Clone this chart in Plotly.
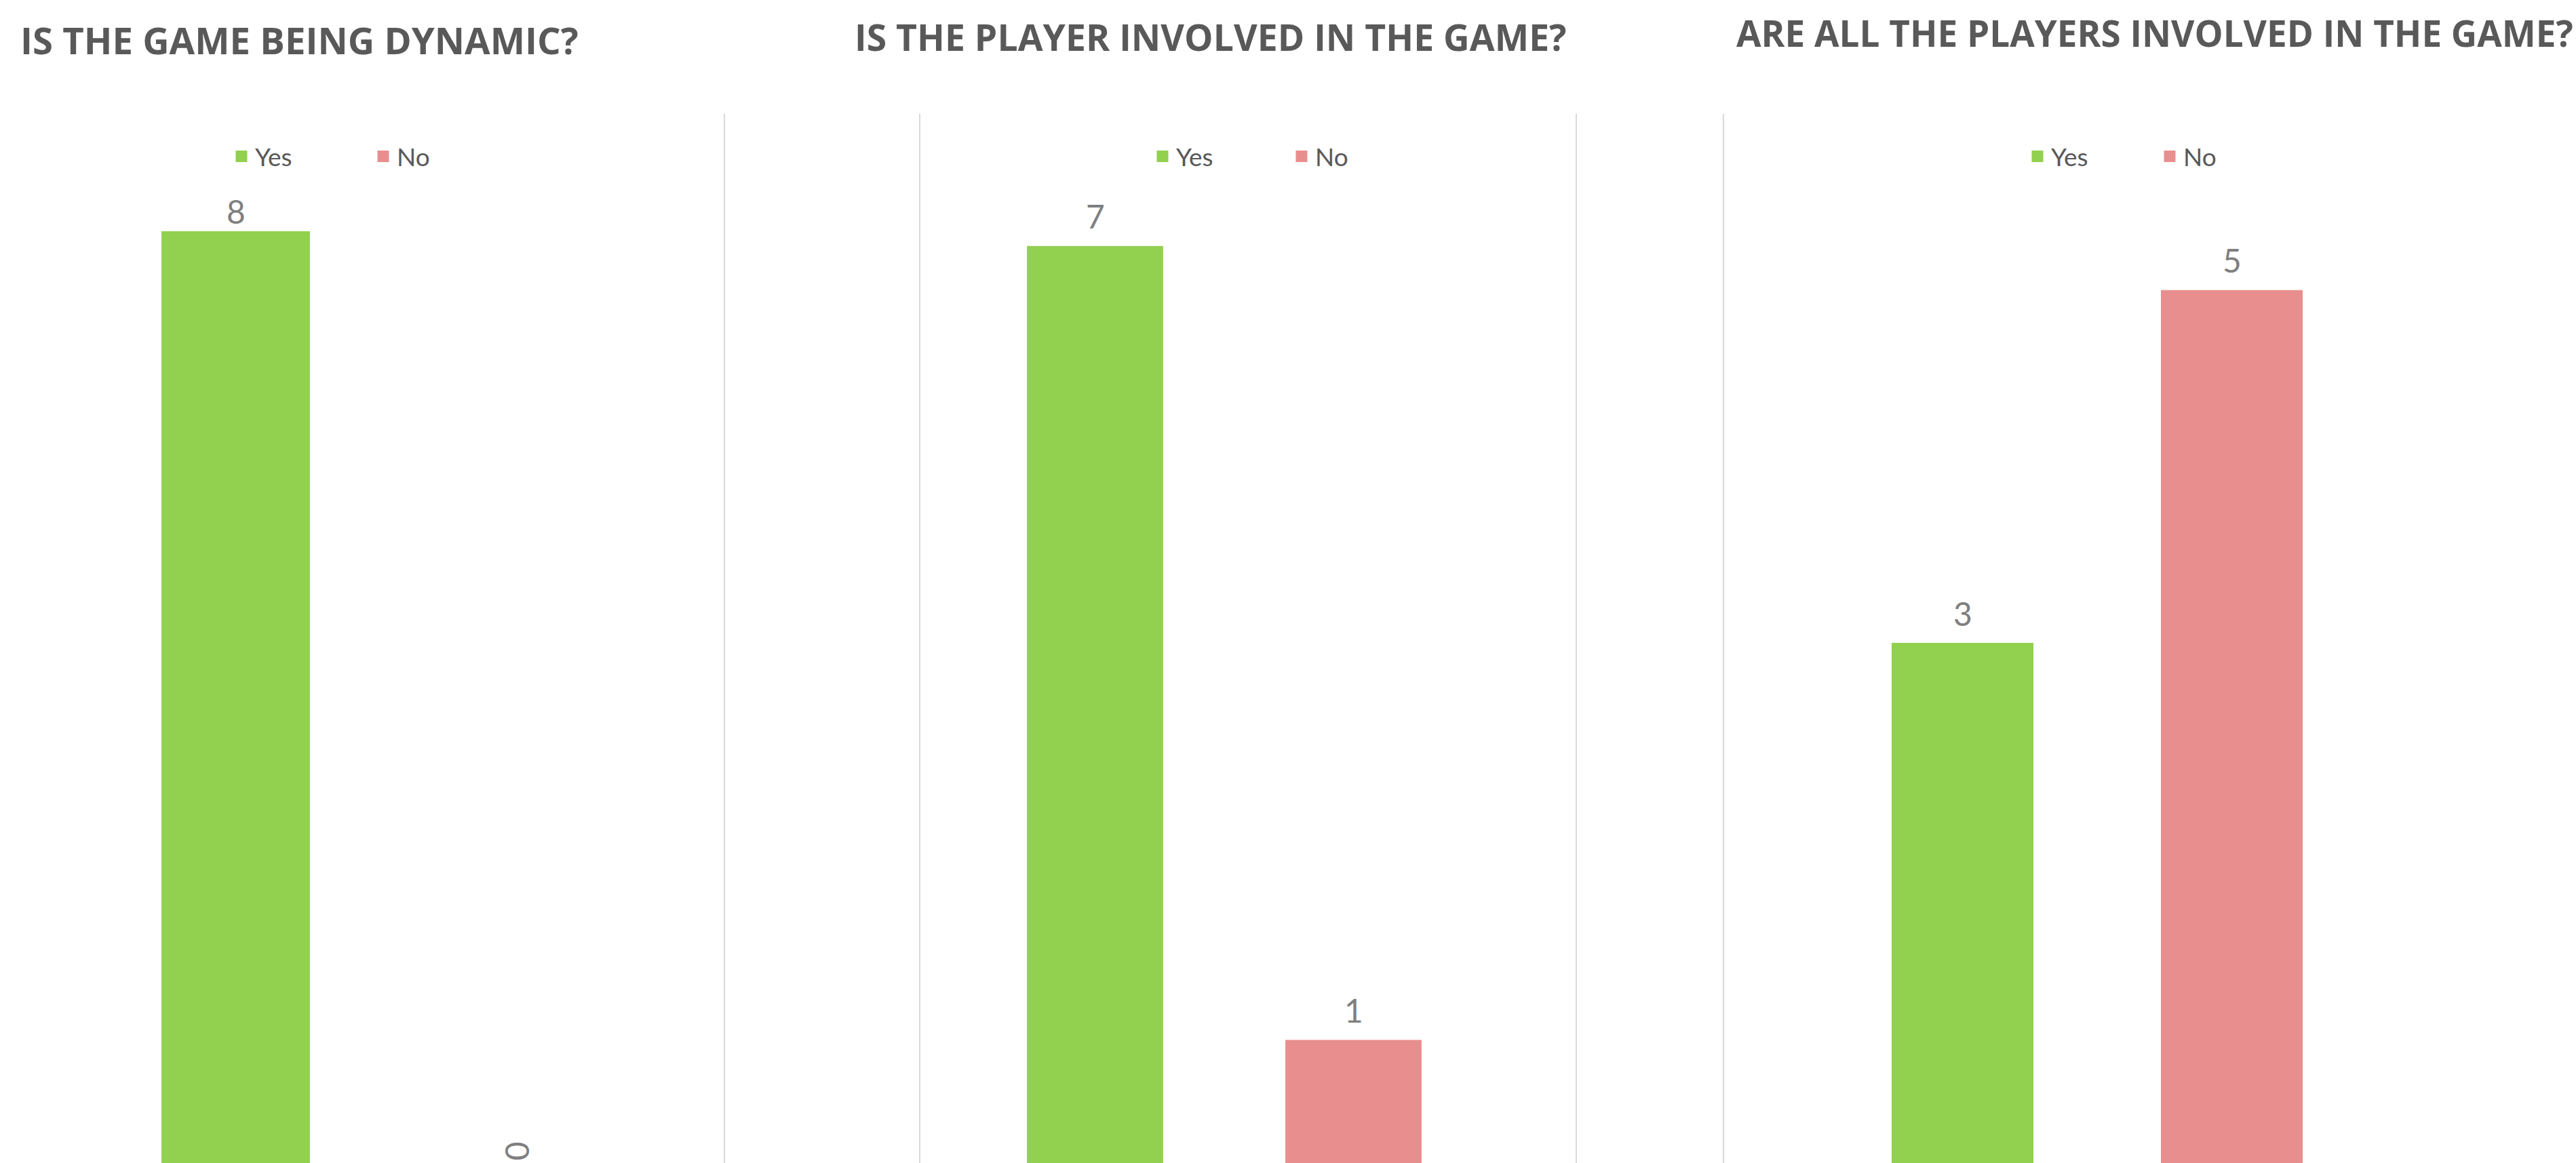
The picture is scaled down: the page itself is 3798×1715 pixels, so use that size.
import plotly.graph_objects as go

# ---------------- data ----------------
categories = ["Yes", "No"]
titles = [
    "IS THE GAME BEING DYNAMIC?",
    "IS THE PLAYER INVOLVED IN THE GAME?",
    "ARE ALL THE PLAYERS INVOLVED IN THE GAME?",
]
game_dynamic = [8, 0]
player_involved = [7, 1]
all_players_involved = [3, 5]
axis_max = [9, 8, 6]

panels_values = [game_dynamic, player_involved, all_players_involved]

# ---------------- styling ----------------
W, H = 3798, 1715
colors = {"Yes": "#92D050", "No": "#E98E8E"}
TITLE_COLOR = "#595959"
LABEL_COLOR = "#7F7F7F"
GRID_COLOR = "#D9D9D9"

PLOT_TOP = 170          # px where each axis max sits
BASE_BELOW = 16         # px the value 0 sits below the bottom of the picture
SPAN = (H + BASE_BELOW) - PLOT_TOP

x_domains_px = [(139.5, 971.5), (1424, 2186), (2695, 3489)]
legend_item_px = [336, 1694, 2984]
legend_entry_w = [164, 160, 150]
title_x_px = [28, 1258, 2558]
title_y_px = [59.5, 54.5, 48.5]
title_size = [54.5, 53.5, 53]
label_shift = [1, 16, 16]
divider_x_px = [1068, 1356, 2324, 2541]


def px_x(p):
    return p / W


def px_y(p):
    return 1 - p / H


fig = go.Figure()
legend_ids = ["legend", "legend2", "legend3"]

for i, vals in enumerate(panels_values):
    n = "" if i == 0 else str(i + 1)
    for cat, v in zip(categories, vals):
        fig.add_trace(go.Bar(
            x=[cat], y=[v], name=cat,
            xaxis="x" + n, yaxis="y" + n,
            legend=legend_ids[i],
            width=0.514,
            marker=dict(color=colors[cat], line=dict(color=colors[cat], width=5)),
            hoverinfo="skip",
        ))

layout = dict(
    width=W, height=H,
    margin=dict(l=0, r=0, t=0, b=0),
    paper_bgcolor="white", plot_bgcolor="white",
    barmode="overlay",
    showlegend=True,
    font=dict(family="Lato", color=TITLE_COLOR),
)

annotations = []
for i, vals in enumerate(panels_values):
    n = "" if i == 0 else str(i + 1)
    mx = axis_max[i]
    r0 = mx * BASE_BELOW / SPAN
    layout["xaxis" + n] = dict(
        domain=[px_x(x_domains_px[i][0]), px_x(x_domains_px[i][1])],
        type="category", categoryarray=categories, categoryorder="array",
        range=[-0.5, 1.5], visible=False, fixedrange=True,
        anchor="y" + n,
    )
    layout["yaxis" + n] = dict(
        domain=[0, px_y(PLOT_TOP)], range=[r0, mx], visible=False,
        showgrid=False, zeroline=False, fixedrange=True, anchor="x" + n,
    )
    layout[legend_ids[i]] = dict(
        orientation="h", x=px_x(legend_item_px[i]), xanchor="left",
        y=px_y(231), yanchor="middle",
        font=dict(family="Lato", size=37, color=TITLE_COLOR),
        entrywidth=legend_entry_w[i], itemwidth=30,
        bgcolor="rgba(0,0,0,0)", borderwidth=0, traceorder="normal",
    )
    # title
    annotations.append(dict(
        text=titles[i], xref="paper", yref="paper",
        x=px_x(title_x_px[i]), y=px_y(title_y_px[i]),
        xanchor="left", yanchor="middle", showarrow=False,
        font=dict(family="Open Sans", size=title_size[i], color=TITLE_COLOR, weight=700),
    ))
    # data labels
    for cat, v in zip(categories, vals):
        if v > 0:
            annotations.append(dict(
                text=str(v), xref="x" + n, yref="y" + n, x=cat, y=v,
                xanchor="center", yanchor="bottom", yshift=label_shift[i],
                showarrow=False,
                font=dict(family="Lato", size=48, color=LABEL_COLOR),
            ))
        else:
            annotations.append(dict(
                text=str(v), xref="x" + n, yref="y" + n + " domain", x=cat, y=0,
                xanchor="center", yanchor="middle", yshift=18, textangle=90,
                showarrow=False,
                font=dict(family="Lato", size=48, color=LABEL_COLOR),
            ))

layout["annotations"] = annotations
layout["shapes"] = [
    dict(type="line", xref="paper", yref="paper",
         x0=px_x(xp), x1=px_x(xp), y0=0, y1=px_y(168),
         line=dict(color=GRID_COLOR, width=2))
    for xp in divider_x_px
]

fig.update_layout(**layout)
fig.write_html(
    "out.html",
    config={"displayModeBar": False},
    post_script="document.body.style.margin='0';document.body.style.overflow='hidden';",
)
